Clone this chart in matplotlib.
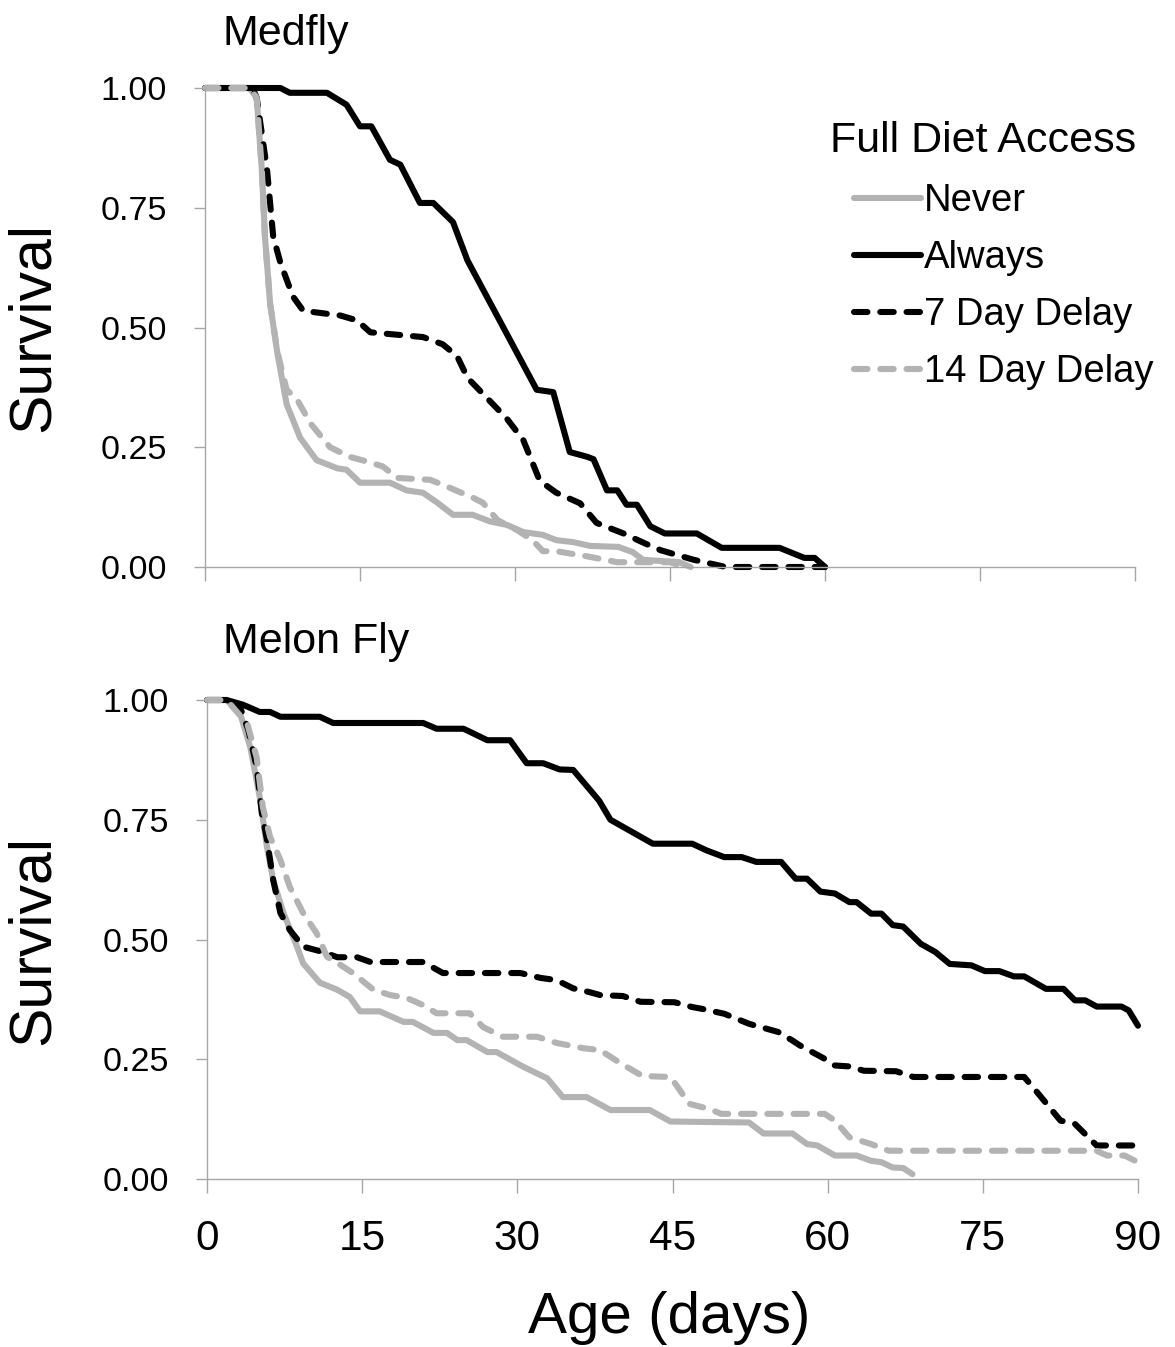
import numpy as np
import matplotlib.pyplot as plt
from matplotlib.lines import Line2D

plt.rcParams['font.family'] = ['Liberation Sans', 'DejaVu Sans']

W, H = 1175, 1347

ticks_x = [0, 15, 30, 45, 60, 75, 90]
ticks_y = [0.0, 0.25, 0.5, 0.75, 1.0]
labels = ['Never', 'Always', '7 Day Delay', '14 Day Delay']

# Medfly: (day, survival)
med_never = [(0, 1.0), (4.3, 1.0), (5.0, 0.98), (5.5, 0.83), (5.8, 0.69), (6.3, 0.55),
             (7.0, 0.447), (7.9, 0.34), (9.2, 0.27), (10.8, 0.223), (12.8, 0.206),
             (13.7, 0.203), (15.0, 0.176), (17.9, 0.176), (19.5, 0.16), (21.1, 0.155),
             (22.5, 0.134), (24.0, 0.109), (25.9, 0.109), (27.6, 0.095), (29.2, 0.088),
             (30.8, 0.073), (32.7, 0.067), (34.0, 0.056), (35.6, 0.052), (37.3, 0.044),
             (40.0, 0.042), (41.4, 0.031), (42.4, 0.015), (45.9, 0.01), (47.0, 0.0)]
med_always = [(0, 1.0), (7.3, 1.0), (8.2, 0.99), (11.8, 0.99), (13.7, 0.965), (15.0, 0.92),
              (16.1, 0.92), (17.9, 0.85), (18.9, 0.84), (20.8, 0.76), (22.1, 0.76),
              (24.0, 0.72), (25.4, 0.64), (32.1, 0.37), (33.7, 0.365), (35.3, 0.24),
              (37.0, 0.23), (37.6, 0.225), (38.9, 0.16), (39.9, 0.16), (40.8, 0.13),
              (41.8, 0.13), (43.1, 0.085), (44.5, 0.07), (47.6, 0.07), (50.0, 0.04),
              (55.6, 0.04), (58.0, 0.019), (59.0, 0.019), (60.0, 0.0)]
med_delay7 = [(0, 1.0), (4.6, 1.0), (5.0, 0.98), (6.0, 0.83), (6.6, 0.69), (7.3, 0.635),
              (8.5, 0.565), (9.5, 0.535), (13.1, 0.525), (14.7, 0.515), (16.0, 0.49),
              (21.1, 0.48), (23.0, 0.465), (24.4, 0.44), (25.4, 0.395), (29.2, 0.31),
              (30.8, 0.265), (32.4, 0.18), (34.0, 0.155), (36.3, 0.133), (37.9, 0.092),
              (40.5, 0.07), (42.5, 0.05), (44.1, 0.035), (47.3, 0.015), (50.4, 0.0),
              (60.0, 0.0)]
med_delay14 = [(0, 1.0), (4.3, 1.0), (5.0, 0.98), (5.5, 0.83), (5.8, 0.69), (6.3, 0.55),
               (7.0, 0.45), (7.9, 0.37), (8.9, 0.35), (10.2, 0.30), (12.1, 0.25),
               (14.0, 0.23), (15.7, 0.22), (17.2, 0.21), (18.6, 0.186), (21.8, 0.182),
               (23.4, 0.168), (25.9, 0.145), (26.9, 0.134), (28.3, 0.098), (30.2, 0.077),
               (31.7, 0.056), (32.7, 0.033), (34.0, 0.033), (37.3, 0.021), (39.9, 0.01),
               (45.0, 0.01), (46.5, 0.0)]

# Melon fly: (day, survival)
mel_never = [(0, 1.0), (1.9, 1.0), (3.2, 0.972), (4.2, 0.90), (5.1, 0.797), (5.8, 0.693),
             (6.4, 0.624), (7.4, 0.555), (8.7, 0.485), (9.3, 0.45), (10.9, 0.41),
             (12.6, 0.395), (13.8, 0.38), (14.8, 0.35), (16.7, 0.35), (19.0, 0.328),
             (19.9, 0.328), (21.9, 0.305), (23.2, 0.305), (24.2, 0.29), (25.1, 0.29),
             (27.1, 0.265), (28.0, 0.265), (30.6, 0.234), (32.9, 0.21), (34.4, 0.171),
             (36.7, 0.171), (39.0, 0.144), (42.8, 0.144), (44.8, 0.12), (52.4, 0.118),
             (53.8, 0.095), (56.6, 0.095), (58.0, 0.073), (59.0, 0.07), (60.7, 0.049),
             (62.8, 0.049), (64.2, 0.038), (65.2, 0.035), (66.3, 0.024), (67.3, 0.023),
             (68.2, 0.01)]
mel_always = [(0, 1.0), (1.9, 1.0), (3.5, 0.99), (5.1, 0.975), (6.1, 0.975), (7.1, 0.965),
              (10.9, 0.965), (12.2, 0.952), (20.9, 0.952), (22.2, 0.94), (24.8, 0.94),
              (27.1, 0.916), (29.3, 0.916), (30.9, 0.868), (32.5, 0.868), (34.1, 0.855),
              (35.4, 0.854), (37.9, 0.79), (39.0, 0.75), (43.1, 0.70), (46.9, 0.70),
              (48.3, 0.686), (50.0, 0.672), (51.7, 0.672), (53.1, 0.662), (55.5, 0.662),
              (56.9, 0.627), (58.0, 0.627), (59.3, 0.60), (60.7, 0.596), (62.1, 0.578),
              (62.8, 0.578), (64.2, 0.554), (65.2, 0.554), (66.3, 0.53), (67.3, 0.527),
              (69.0, 0.491), (70.4, 0.474), (71.8, 0.449), (73.9, 0.446), (75.2, 0.434),
              (76.6, 0.434), (78.0, 0.423), (79.0, 0.423), (81.1, 0.397), (82.8, 0.397),
              (83.9, 0.373), (84.9, 0.373), (86.0, 0.36), (88.4, 0.36), (89.1, 0.352),
              (90.0, 0.32)]
mel_delay7 = [(0, 1.0), (1.9, 1.0), (3.2, 0.985), (4.0, 0.937), (4.8, 0.86), (5.3, 0.764),
              (5.8, 0.708), (6.4, 0.624), (7.1, 0.555), (8.0, 0.52), (9.3, 0.485),
              (11.2, 0.474), (12.6, 0.463), (14.5, 0.463), (15.8, 0.453), (20.9, 0.453),
              (22.8, 0.43), (30.3, 0.43), (32.2, 0.42), (33.8, 0.415), (35.4, 0.398),
              (37.0, 0.39), (38.0, 0.384), (40.2, 0.382), (41.9, 0.37), (45.2, 0.369),
              (46.9, 0.359), (47.9, 0.355), (50.0, 0.345), (52.4, 0.324), (55.2, 0.307),
              (56.6, 0.289), (57.3, 0.279), (59.7, 0.251), (60.7, 0.237), (62.1, 0.235),
              (63.5, 0.226), (66.6, 0.225), (68.3, 0.213), (79.0, 0.213), (80.1, 0.185),
              (82.5, 0.122), (83.9, 0.115), (86.0, 0.07), (90.0, 0.07)]
mel_delay14 = [(0, 1.0), (1.9, 1.0), (3.9, 0.95), (4.8, 0.88), (5.4, 0.776), (6.1, 0.714),
               (7.1, 0.666), (8.0, 0.61), (9.3, 0.555), (10.6, 0.513), (11.6, 0.464),
               (12.9, 0.447), (14.1, 0.43), (16.1, 0.395), (17.7, 0.384), (19.3, 0.378),
               (20.9, 0.363), (22.2, 0.346), (25.4, 0.346), (26.7, 0.317), (28.6, 0.297),
               (31.9, 0.297), (33.8, 0.284), (36.4, 0.273), (38.0, 0.269), (40.1, 0.24),
               (42.1, 0.215), (44.8, 0.213), (45.5, 0.192), (46.6, 0.157), (48.6, 0.146),
               (49.7, 0.136), (59.7, 0.136), (60.7, 0.122), (62.1, 0.087), (64.2, 0.073),
               (65.9, 0.059), (86.0, 0.059), (87.0, 0.049), (88.7, 0.049), (90.0, 0.035)]

GRAY = '#b3b3b3'
AXC = '#a6a6a6'
LW = 4.4
DASH = (0, (2.2, 2.1))
styles = [dict(color=GRAY, ls='-'),
          dict(color='black', ls='-'),
          dict(color='black', ls=DASH),
          dict(color=GRAY, ls=DASH)]

fig = plt.figure(figsize=(W / 100, H / 100), dpi=100)
ax1 = fig.add_axes([205 / W, 1 - 567 / H, 930 / W, 479 / H])
ax2 = fig.add_axes([207 / W, 1 - 1179 / H, 931 / W, 479 / H])

for ax, series in [(ax1, [med_never, med_always, med_delay7, med_delay14]),
                   (ax2, [mel_never, mel_always, mel_delay7, mel_delay14])]:
    for s, st in zip(series, styles):
        d = np.array(s).T
        ax.plot(d[0], d[1], lw=LW, clip_on=False, solid_joinstyle='round',
                solid_capstyle='round', dash_capstyle='round', **st)
    ax.set_xlim(0, 90)
    ax.set_ylim(0, 1)
    for sp in ['top', 'right']:
        ax.spines[sp].set_visible(False)
    for sp in ['left', 'bottom']:
        ax.spines[sp].set_color(AXC)
        ax.spines[sp].set_linewidth(1.0)
    ax.set_xticks(ticks_x)
    ax.set_yticks(ticks_y)
    ax.set_yticklabels(['%.2f' % v for v in ticks_y])
    ax.tick_params(axis='y', length=8, width=1.0, color=AXC, pad=19.5, labelsize=24.5)
    ax.tick_params(axis='x', length=10, width=1.0, color=AXC, pad=19, labelsize=30.5)

ax1.set_xticklabels([])

fig.text(223 / W, 1 - 45 / H, 'Medfly', fontsize=31, ha='left', va='baseline')
fig.text(223 / W, 1 - 653 / H, 'Melon Fly', fontsize=31, ha='left', va='baseline')
fig.text(33 / W, 1 - 327 / H, 'Survival', fontsize=42.5, rotation=90, ha='center', va='center')
fig.text(33 / W, 1 - 940 / H, 'Survival', fontsize=42.5, rotation=90, ha='center', va='center')
fig.text(669 / W, 1 - 1333 / H, 'Age (days)', fontsize=42, ha='center', va='baseline')

fig.text(830 / W, 1 - 152 / H, 'Full Diet Access', fontsize=31, ha='left', va='baseline')
handles = [Line2D([], [], lw=LW, solid_capstyle='round', dash_capstyle='round', **st)
           for st in styles]
ax1.legend(handles, labels, loc='upper left', bbox_to_anchor=(854 / W, 1 - 183 / H),
           bbox_transform=fig.transFigure, frameon=False, fontsize=27.5,
           handlelength=1.76, handletextpad=0.08, labelspacing=0.55,
           borderpad=0, borderaxespad=0)

fig.savefig('out.png', dpi=100)
